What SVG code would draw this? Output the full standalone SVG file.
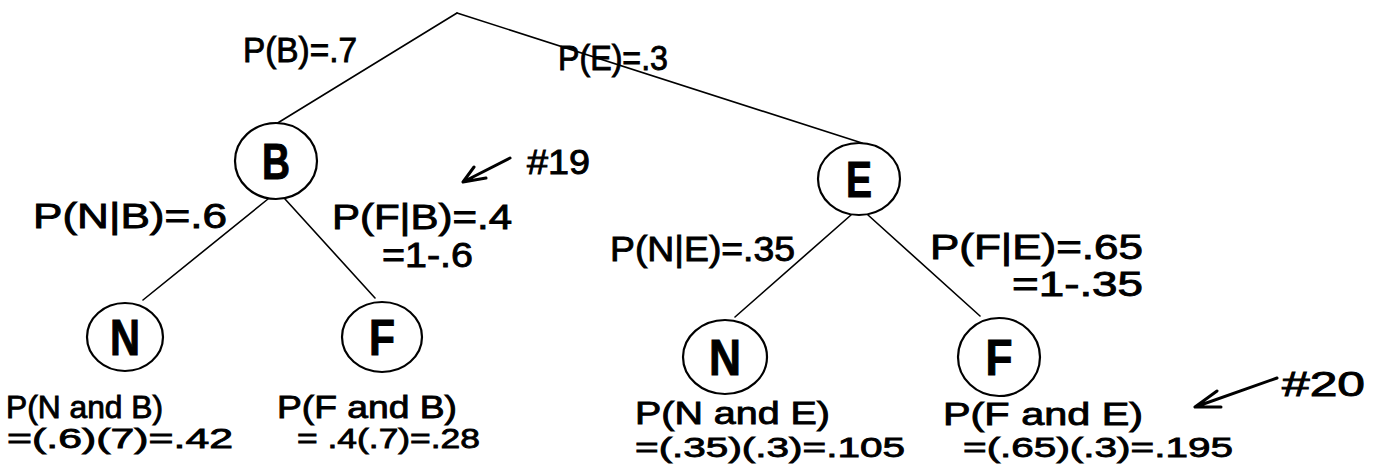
<svg xmlns="http://www.w3.org/2000/svg" width="1374" height="464" viewBox="0 0 1374 464">
  <style>
    .edge { stroke: #000; stroke-width: 1.6; fill: none; stroke-linecap: round; }
    .ring { stroke: #000; stroke-width: 2.2; fill: #fff; }
    .letter { font-family: "Liberation Sans", "DejaVu Sans", sans-serif; font-weight: bold; font-size: 50px; fill: #000; stroke: #000; stroke-width: 1; text-anchor: middle; }
    .lbl { font-family: "Liberation Sans", "DejaVu Sans", sans-serif; font-size: 35px; fill: #000; stroke: #000; stroke-width: 0.9; }
    .top { font-family: "Liberation Sans", "DejaVu Sans", sans-serif; font-size: 32px; fill: #000; stroke: #000; stroke-width: 0.9; }
    .sub { font-family: "Liberation Sans", "DejaVu Sans", sans-serif; font-size: 27px; fill: #000; stroke: #000; stroke-width: 0.8; }
    .pointer { stroke: #000; stroke-width: 3; fill: none; stroke-linecap: round; stroke-linejoin: round; }
  </style>
  <rect width="1374" height="464" fill="#fff"/>

  <!-- branches -->
  <g id="connectors">
    <path class="edge" d="M457,13 L276,124"/>
    <path class="edge" d="M457,13 L862,143"/>
    <path class="edge" d="M268,199 L143,300"/>
    <path class="edge" d="M285,199 L375,298"/>
    <path class="edge" d="M851,215 L735,317"/>
    <path class="edge" d="M868,215 L980,316"/>
  </g>

  <!-- branch probabilities -->
  <g id="branch-labels">
    <text class="lbl" x="243" y="62" textLength="114" lengthAdjust="spacingAndGlyphs">P(B)=.7</text>
    <text class="lbl" x="558" y="70" textLength="110" lengthAdjust="spacingAndGlyphs">P(E)=.3</text>
    <text class="lbl" x="33" y="228" textLength="194" lengthAdjust="spacingAndGlyphs">P(N|B)=.6</text>
    <text class="lbl" x="332" y="229" textLength="180" lengthAdjust="spacingAndGlyphs">P(F|B)=.4</text>
    <text class="lbl" x="382" y="267" textLength="91" lengthAdjust="spacingAndGlyphs">=1-.6</text>
    <text class="lbl" x="610" y="261" textLength="185" lengthAdjust="spacingAndGlyphs">P(N|E)=.35</text>
    <text class="lbl" x="930" y="259" textLength="213" lengthAdjust="spacingAndGlyphs">P(F|E)=.65</text>
    <text class="lbl" x="1012" y="296" textLength="131" lengthAdjust="spacingAndGlyphs">=1-.35</text>
  </g>

  <g id="node-B">
    <ellipse class="ring" cx="276" cy="161" rx="41" ry="38"/>
    <text class="letter" x="276" y="179" textLength="28" lengthAdjust="spacingAndGlyphs">B</text>
  </g>
  <g id="node-E">
    <ellipse class="ring" cx="859" cy="179" rx="41" ry="36"/>
    <text class="letter" x="859" y="197" textLength="26" lengthAdjust="spacingAndGlyphs">E</text>
  </g>
  <g id="node-N-B">
    <ellipse class="ring" cx="125" cy="337" rx="38" ry="34"/>
    <text class="letter" x="125" y="355" textLength="30" lengthAdjust="spacingAndGlyphs">N</text>
  </g>
  <g id="node-F-B">
    <ellipse class="ring" cx="382" cy="337" rx="40" ry="35"/>
    <text class="letter" x="382" y="355" textLength="26" lengthAdjust="spacingAndGlyphs">F</text>
  </g>
  <g id="node-N-E">
    <ellipse class="ring" cx="725" cy="357" rx="42" ry="37"/>
    <text class="letter" x="725" y="375" textLength="32" lengthAdjust="spacingAndGlyphs">N</text>
  </g>
  <g id="node-F-E">
    <ellipse class="ring" cx="999" cy="357" rx="41" ry="39"/>
    <text class="letter" x="999" y="375" textLength="27" lengthAdjust="spacingAndGlyphs">F</text>
  </g>

  <!-- joint probabilities under the leaves -->
  <g id="joint-labels">
    <text class="top" x="6" y="418" textLength="157" lengthAdjust="spacingAndGlyphs">P(N and B)</text>
    <text class="sub" x="7" y="448" textLength="226" lengthAdjust="spacingAndGlyphs">=(.6)(7)=.42</text>
    <text class="top" x="277" y="418" textLength="180" lengthAdjust="spacingAndGlyphs">P(F and B)</text>
    <text class="sub" x="297" y="448" textLength="183" lengthAdjust="spacingAndGlyphs">= .4(.7)=.28</text>
    <text class="top" x="635" y="424" textLength="195" lengthAdjust="spacingAndGlyphs">P(N and E)</text>
    <text class="sub" x="635" y="457" textLength="270" lengthAdjust="spacingAndGlyphs">=(.35)(.3)=.105</text>
    <text class="top" x="943" y="425" textLength="200" lengthAdjust="spacingAndGlyphs">P(F and E)</text>
    <text class="sub" x="963" y="457" textLength="270" lengthAdjust="spacingAndGlyphs">=(.65)(.3)=.195</text>
  </g>

  <!-- exercise pointers -->
  <g id="note-19">
    <path class="pointer" d="M510,158 L463,182 M474,167 L463,182 L486,178"/>
    <text class="lbl" x="527" y="174" textLength="63" lengthAdjust="spacingAndGlyphs">#19</text>
  </g>
  <g id="note-20">
    <path class="pointer" d="M1277,378 L1195,407 M1217,391 L1195,407 L1221,407"/>
    <text class="lbl" x="1282" y="396" textLength="83" lengthAdjust="spacingAndGlyphs">#20</text>
  </g>
</svg>
